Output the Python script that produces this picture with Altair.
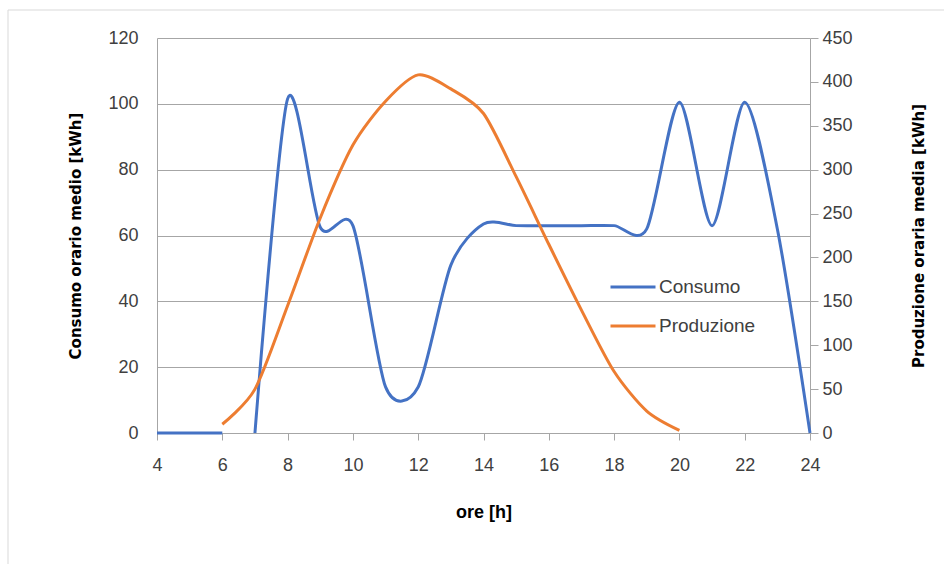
import altair as alt
import pandas as pd

# ---- data ----
consumo_hours = [4, 5, 6, 7, 8, 9, 10, 11, 12, 13, 14, 15, 16, 17, 18, 19, 20, 21, 22, 23, 24]
consumo_vals  = [0, 0, 0, 0, 101.5, 62.5, 63, 14, 14, 51, 63.5, 63, 63, 63, 63, 62, 100.5, 63, 100.5, 62, 0]
consumo_seg   = ["a", "a", "a"] + ["b"] * 18

prod_hours = [6, 7, 8, 9, 10, 11, 12, 13, 14, 15, 16, 17, 18, 19, 20]
prod_vals  = [10, 50, 145, 245, 328, 378, 408, 392, 364, 292, 215, 140, 70, 25, 3]

series_names = ["Consumo", "Produzione"]
series_colors = ["#4472C4", "#ED7D31"]

x_ticks = list(range(4, 25, 2))
left_ticks = list(range(0, 121, 20))
right_ticks = list(range(0, 451, 50))

df_c = pd.DataFrame({"ore": consumo_hours, "val": consumo_vals, "seg": consumo_seg, "serie": "Consumo"})
df_p = pd.DataFrame({"ore": prod_hours, "val": prod_vals, "serie": "Produzione"})

LBL_FONT = "Liberation Sans, sans-serif"
TTL_FONT = "DejaVu Sans, Verdana, sans-serif"
GRID = "#A6A6A6"
TENSION = 0.2

color = alt.Color(
    "serie:N",
    scale=alt.Scale(domain=series_names, range=series_colors),
    legend=alt.Legend(
        title=None, orient="none", legendX=452, legendY=225,
        symbolType="stroke", symbolSize=2025, symbolStrokeWidth=3,
        labelFont=LBL_FONT, labelFontSize=19, labelColor="#404040",
        rowPadding=5, labelOffset=2,
    ),
)

x_enc = alt.X(
    "ore:Q",
    scale=alt.Scale(domain=[4, 24], nice=False),
    axis=alt.Axis(
        values=x_ticks, title="ore [h]", grid=False,
        domainColor=GRID, tickColor=GRID, tickSize=7,
        labelFont=LBL_FONT, labelFontSize=18, labelColor="#404040", labelPadding=16,
        labelFlush=False, labelOverlap=False,
        titleFont=LBL_FONT, titleFontSize=18, titleFontWeight="bold", titleColor="#000000",
        titleX=326.5, titleY=79, titleBaseline="middle",
    ),
)

left = alt.Chart(df_c).mark_line(interpolate="cardinal", tension=TENSION, strokeWidth=3).encode(
    x=x_enc,
    y=alt.Y(
        "val:Q",
        scale=alt.Scale(domain=[0, 120], nice=False),
        axis=alt.Axis(
            values=left_ticks, title="Consumo orario medio [kWh]", orient="left",
            grid=True, gridColor=GRID, gridWidth=1, ticks=False,
            domainColor=GRID,
            labelFont=LBL_FONT, labelFontSize=18, labelColor="#404040", labelPadding=19,
            titleFont=TTL_FONT, titleFontSize=15, titleFontWeight="bold", titleColor="#000000",
            titleX=-82, titleY=197.5, titleBaseline="middle", titleAngle=270,
        ),
    ),
    color=color,
    detail="seg:N",
)

right = alt.Chart(df_p).mark_line(interpolate="cardinal", tension=TENSION, strokeWidth=3).encode(
    x=x_enc,
    y=alt.Y(
        "val:Q",
        scale=alt.Scale(domain=[0, 450], nice=False),
        axis=alt.Axis(
            values=right_ticks, title="Produzione oraria media [kWh]", orient="right",
            grid=False, ticks=True, tickSize=8, tickColor=GRID,
            domainColor=GRID,
            labelFont=LBL_FONT, labelFontSize=18, labelColor="#404040", labelPadding=4,
            titleFont=TTL_FONT, titleFontSize=15, titleFontWeight="bold", titleColor="#000000",
            titleX=108, titleY=197.5, titleBaseline="middle", titleAngle=270,
        ),
    ),
    color=color,
)

frame = alt.Chart(alt.Data(values=[{}])).mark_rect(
    fill=None, stroke="#D9D9D9", strokeWidth=1
).encode(
    x=alt.value(-149), x2=alt.value(800), y=alt.value(-28), y2=alt.value(540)
)

chart = alt.layer(frame, left, right).resolve_scale(y="independent").properties(
    width=653, height=395,
    autosize=alt.AutoSizeParams(type="none"),
    padding={"left": 157, "top": 38, "right": 134, "bottom": 131},
    background="white",
).configure_view(stroke=None)

chart.save("out.html", embed_options={"renderer": "svg", "actions": False})
